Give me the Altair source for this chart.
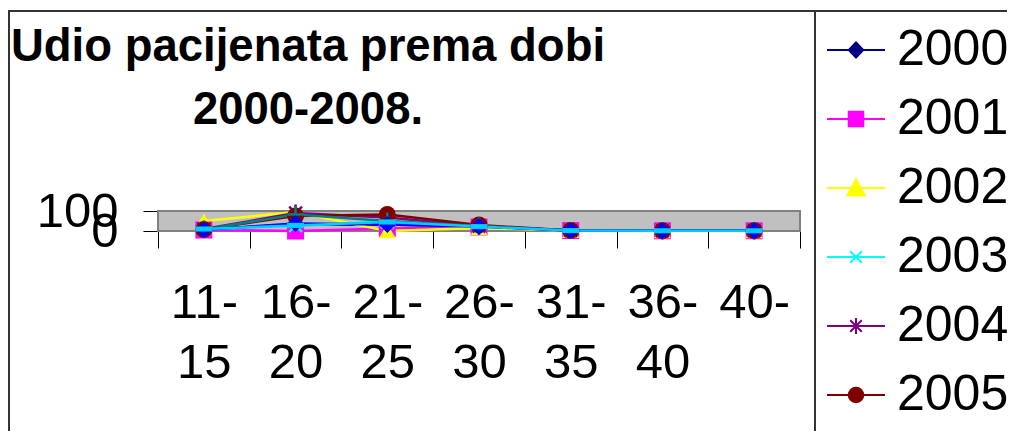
import altair as alt
import pandas as pd

ages = ["11-15", "16-20", "21-25", "26-30", "31-35", "36-40", "40-"]
years = ["2000", "2001", "2002", "2003", "2004", "2005", "2006", "2007", "2008"]

v2000 = [8, 33, 33, 22, 2, 1, 1]
v2001 = [5, 0, 12, 20, 2, 1, 1]
v2002 = [50, 95, 0, 15, 2, 1, 1]
v2003 = [8, 28, 45, 22, 2, 1, 1]
v2004 = [10, 90, 68, 25, 2, 1, 1]
v2005 = [8, 75, 83, 30, 2, 1, 1]
v2006 = [8, 83, 50, 25, 2, 1, 1]
v2007 = [6, 38, 33, 22, 2, 1, 1]
v2008 = [10, 28, 45, 22, 2, 1, 1]
series = [v2000, v2001, v2002, v2003, v2004, v2005, v2006, v2007, v2008]

colors = ["#000080", "#FF00FF", "#FFFF00", "#00FFFF", "#800080",
          "#800000", "#008080", "#0000FF", "#00CCFF"]
legend_years = years[:6]

# plot marker shapes (unit box -1..1) and whether filled
plot_shapes = [
    "diamond",
    "square",
    "triangle-up",
    "M-0.75,-0.75L0.75,0.75M-0.75,0.75L0.75,-0.75",
    "M-0.75,-0.75L0.75,0.75M-0.75,0.75L0.75,-0.75M0,-1L0,1",
    "circle",
    "M-1,0L1,0M0,-1L0,1",
    "diamond",
    "M-1,-0.3L1,-0.3L1,0.3L-1,0.3Z",
]
plot_filled = [True, True, True, False, False, True, False, True, True]

# legend symbols: line + marker
legend_paths = [
    "M-1,0L1,0M0,-0.26L0.25,0L0,0.26L-0.25,0Z",
    "M-1,0L1,0M-0.25,-0.25L0.25,-0.25L0.25,0.25L-0.25,0.25Z",
    "M-1,0L1,0M0,-0.3L0.3,0.26L-0.3,0.26Z",
    "M-1,0L1,0M-0.2,-0.2L0.2,0.2M-0.2,0.2L0.2,-0.2",
    "M-1,0L1,0M-0.2,-0.2L0.2,0.2M-0.2,0.2L0.2,-0.2M0,-0.28L0,0.28",
    "M-1,0L1,0M-0.25,0A0.25,0.25 0 1,0 0.25,0A0.25,0.25 0 1,0 -0.25,0Z",
]

rows = []
for yr, vals in zip(years, series):
    for a, v in zip(ages, vals):
        rows.append({"age": a, "year": yr, "value": v})
df = pd.DataFrame(rows)
legend_df = pd.DataFrame({"year": legend_years})

FONT = "Liberation Sans"

x_axis = alt.Axis(
    labelAngle=0, labelFontSize=49, labelFont=FONT, labelColor="black",
    labelLineHeight=60, labelPadding=30, tickSize=17, tickBand="extent",
    tickColor="black", domainColor="black", grid=False,
    labelExpr="[slice(datum.label, 0, 3), slice(datum.label, 3)]",
)
y_axis = alt.Axis(
    values=[0, 100], labelFontSize=49, labelFont=FONT, labelColor="black",
    labelPadding=25, tickSize=15, tickColor="black", domainColor="black",
    grid=False, labelOverlap=False, labelFlush=False, labelBound=False,
)
y_scale = alt.Scale(domain=[0, 100], nice=False)

x_enc = alt.X(
    "age:N", sort=ages, bandPosition=0.5, title=None,
    scale=alt.Scale(type="band", paddingInner=0, paddingOuter=0),
    axis=x_axis,
)
y_enc = alt.Y("value:Q", title=None, scale=y_scale, axis=y_axis)

frame_df = pd.DataFrame({"lo": [0], "hi": [100]})

# plot-area background (grey wall)
wall = alt.Chart(frame_df).mark_rect(
    fill="#C0C0C0", stroke="#808080", strokeWidth=2
).encode(
    x=alt.value(0), x2=alt.value("width"),
    y=alt.Y("lo:Q", title=None, scale=y_scale, axis=y_axis),
    y2="hi:Q",
)

lines = alt.Chart(df).mark_line(strokeWidth=2.5).encode(
    x=x_enc, y=y_enc,
    color=alt.Color("year:N", scale=alt.Scale(domain=years, range=colors), legend=None),
)

point_layers = []
for yr, shp, fil, col in zip(years, plot_shapes, plot_filled, colors):
    point_layers.append(
        alt.Chart(df).transform_filter(alt.datum.year == yr)
        .mark_point(shape=shp, filled=fil, color=col, size=289, strokeWidth=2.5, opacity=1)
        .encode(x=x_enc, y=y_enc)
    )

leg = alt.Legend(
    title=None, orient="none", legendX=668, legendY=-191, direction="vertical",
    symbolSize=3364, symbolStrokeWidth=2, symbolOpacity=1,
    labelFontSize=50, labelFont=FONT, labelColor="black", labelOffset=11,
    rowPadding=14, padding=0, labelLimit=300,
)
legend_layer = alt.Chart(legend_df).mark_point(filled=True, opacity=0).encode(
    fill=alt.Fill("year:N", scale=alt.Scale(domain=legend_years, range=colors[:6]), legend=leg),
    stroke=alt.Stroke("year:N", scale=alt.Scale(domain=legend_years, range=colors[:6]), legend=leg),
    shape=alt.Shape("year:N", scale=alt.Scale(domain=legend_years, range=legend_paths), legend=leg),
)

frame_left = alt.Chart(frame_df).mark_rule(color="#333333", strokeWidth=2).encode(
    x=alt.value(-149), y=alt.value(-201), y2=alt.value(420))
frame_top = alt.Chart(frame_df).mark_rule(color="#333333", strokeWidth=2).encode(
    x=alt.value(-150), x2=alt.value(900), y=alt.value(-200))
frame_sep = alt.Chart(frame_df).mark_rule(color="#333333", strokeWidth=2).encode(
    x=alt.value(657), y=alt.value(-201), y2=alt.value(420))

chart = alt.layer(
    wall, lines, *point_layers, legend_layer, frame_left, frame_top, frame_sep
).properties(
    width=642, height=20,
    background="white",
    title=alt.TitleParams(
        text=["Udio pacijenata prema dobi", "2000-2008."],
        anchor="start", align="center", frame="group", dx=150,
        fontSize=45.5, font=FONT, fontWeight="bold", lineHeight=63,
        baseline="alphabetic", color="black", offset=-160,
    ),
    autosize=alt.AutoSizeParams(type="none"),
    padding={"left": 150, "top": 203, "right": 207, "bottom": 200},
).configure_view(
    fill="#C0C0C0", stroke="#808080", strokeWidth=2
)

chart.save("out.html", embed_options={"renderer": "svg", "actions": False})
